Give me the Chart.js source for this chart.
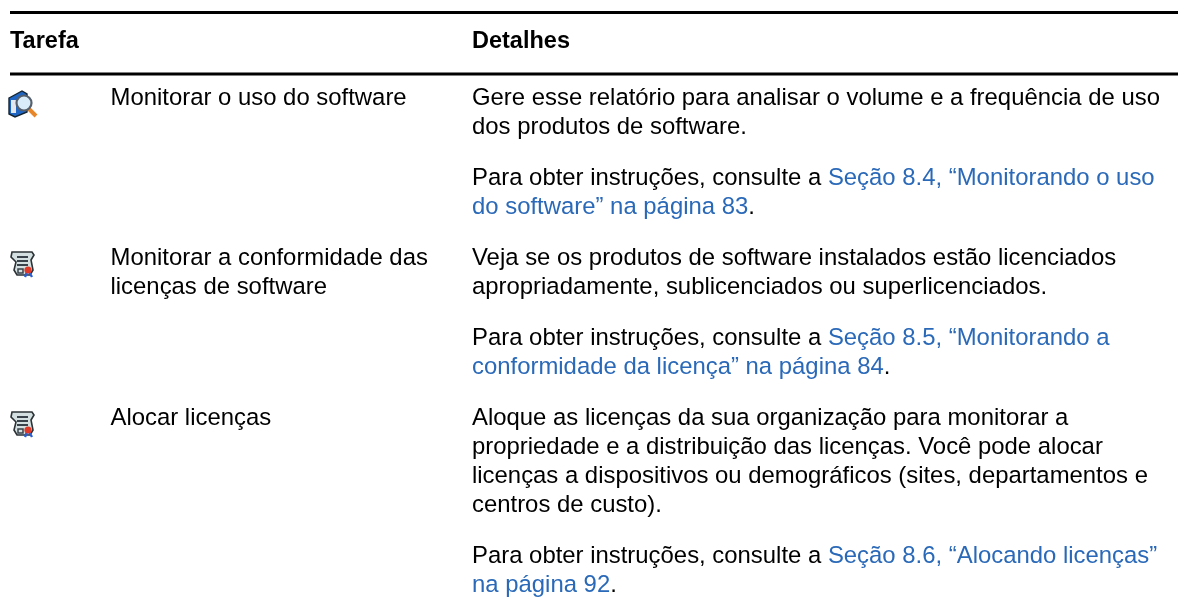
<!DOCTYPE html>
<html lang="en">
<head>
  <meta charset="UTF-8" />
  <title>Tarefa / Detalhes</title>
  <script src="https://cdn.jsdelivr.net/npm/chart.js"></script>
  <style>
    html, body { margin: 0; padding: 0; background: #fff; }
    #tableChart { display: block; }
  </style>
</head>
<body>
  <canvas id="tableChart" width="1178" height="610"></canvas>
  <script>
    // table content
    const headers = ['Tarefa', 'Detalhes'];
    const tasks = [
      ['Monitorar o uso do software'],
      ['Monitorar a conformidade das', 'licenças de software'],
      ['Alocar licenças']
    ];
    const icons = ['search', 'scroll', 'scroll'];
    // each cell: paragraphs > lines > [black text, link text, black text]
    const details = [
      [
        [['Gere esse relatório para analisar o volume e a frequência de uso'], ['dos produtos de software.']],
        [['Para obter instruções, consulte a ', 'Seção 8.4, “Monitorando o uso'], ['', 'do software” na página 83', '.']]
      ],
      [
        [['Veja se os produtos de software instalados estão licenciados'], ['apropriadamente, sublicenciados ou superlicenciados.']],
        [['Para obter instruções, consulte a ', 'Seção 8.5, “Monitorando a'], ['', 'conformidade da licença” na página 84', '.']]
      ],
      [
        [['Aloque as licenças da sua organização para monitorar a'], ['propriedade e a distribuição das licenças. Você pode alocar'], ['licenças a dispositivos ou demográficos (sites, departamentos e'], ['centros de custo).']],
        [['Para obter instruções, consulte a ', 'Seção 8.6, “Alocando licenças”'], ['', 'na página 92', '.']]
      ]
    ];

    const FONT = '"Liberation Sans", Arial, sans-serif';
    const FONT_SIZE = 23.9;
    const BOLD_SIZE = 23.5;
    const LINE_H = 29.3;
    const PARA_GAP = 21.4;
    const LINK = '#2a69b8';
    const COL_ICON = 10, COL_TASK = 110.5, COL_DETAIL = 472;
    const RULE_TOP = 12.5, RULE_HEAD = 74, HEAD_Y = 42, FIRST_ROW_Y = 98;
    // the icon radius makes Chart.js inset the plot area by this much
    const INSET = 15;

    // work out the text rows from the cell contents
    const textItems = [];
    const iconPoints = [];
    headers.forEach((h, i) => textItems.push({ x: i ? COL_DETAIL : COL_ICON, y: HEAD_Y, parts: [h], bold: true }));
    let rowY = FIRST_ROW_Y;
    details.forEach((cell, r) => {
      iconPoints.push({ x: COL_ICON + 13, y: rowY + 6 });
      tasks[r].forEach((t, i) => textItems.push({ x: COL_TASK, y: rowY + i * LINE_H, parts: [t] }));
      let y = rowY;
      cell.forEach(para => {
        para.forEach(line => {
          textItems.push({ x: COL_DETAIL, y, parts: line });
          y += LINE_H;
        });
        y += PARA_GAP;
      });
      rowY = y;
    });

    function pixIcon(kind) {
      const c = document.createElement('canvas');
      c.width = 30; c.height = 28;
      const g = c.getContext('2d');
      if (kind === 'search') {
        g.fillStyle = '#1f66c4';
        g.beginPath(); g.moveTo(1, 8); g.lineTo(14, 1); g.lineTo(19, 4); g.lineTo(19, 22); g.lineTo(7, 27); g.lineTo(1, 24); g.closePath(); g.fill();
        g.strokeStyle = '#142430'; g.lineWidth = 1.4; g.stroke();
        g.fillStyle = '#e4e8ee'; g.fillRect(3, 10, 5, 13);
        g.strokeStyle = '#e8862a'; g.lineWidth = 4; g.beginPath(); g.moveTo(21, 19); g.lineTo(28, 26); g.stroke();
        g.fillStyle = '#d8ecfa'; g.strokeStyle = '#55606c'; g.lineWidth = 2.2;
        g.beginPath(); g.arc(16, 13, 7.5, 0, Math.PI * 2); g.fill(); g.stroke();
      } else {
        g.fillStyle = '#d3dfe0'; g.strokeStyle = '#2c3236'; g.lineWidth = 1.6;
        g.beginPath(); g.moveTo(4, 2); g.lineTo(24, 2); g.lineTo(26, 5); g.lineTo(23, 10); g.lineTo(25, 20); g.lineTo(22, 25); g.lineTo(9, 25); g.lineTo(6, 20); g.lineTo(8, 12); g.lineTo(3, 7); g.closePath(); g.fill(); g.stroke();
        g.strokeStyle = '#39424a'; g.lineWidth = 2;
        [7, 11, 15].forEach(y => { g.beginPath(); g.moveTo(9, y); g.lineTo(20, y); g.stroke(); });
        g.strokeStyle = '#39424a'; g.lineWidth = 1.5;
        g.strokeRect(10, 19, 5, 4);
        g.strokeStyle = '#2a5fd0'; g.lineWidth = 2.4;
        g.beginPath(); g.moveTo(19, 22); g.lineTo(17, 27); g.moveTo(21, 22); g.lineTo(24, 27); g.stroke();
        g.fillStyle = '#e0392a'; g.beginPath(); g.arc(20, 20, 3.6, 0, Math.PI * 2); g.fill();
      }
      return c;
    }

    // draws the table text through the scales
    const tableText = {
      id: 'tableText',
      afterDatasetsDraw(chart) {
        const { ctx, scales } = chart;
        ctx.save();
        ctx.textBaseline = 'middle';
        ctx.textAlign = 'left';
        textItems.forEach(t => {
          ctx.font = t.bold ? 'bold ' + BOLD_SIZE + 'px ' + FONT : FONT_SIZE + 'px ' + FONT;
          let px = scales.x.getPixelForValue(t.x);
          const py = scales.y.getPixelForValue(t.y);
          t.parts.forEach((part, i) => {
            ctx.fillStyle = i === 1 ? LINK : '#000';
            ctx.fillText(part, px, py);
            px += ctx.measureText(part).width;
          });
        });
        ctx.restore();
      }
    };

    new Chart(document.getElementById('tableChart'), {
      type: 'scatter',
      data: {
        datasets: [
          {
            type: 'line', data: [{ x: COL_ICON, y: RULE_TOP }, { x: 1178, y: RULE_TOP }],
            borderColor: '#000', borderWidth: 3, pointRadius: 0, clip: false
          },
          {
            type: 'line', data: [{ x: COL_ICON, y: RULE_HEAD }, { x: 1178, y: RULE_HEAD }],
            borderColor: '#000', borderWidth: 3, pointRadius: 0, clip: false
          },
          {
            data: iconPoints,
            pointStyle: icons.map(pixIcon),
            pointRadius: 14,
            clip: false
          }
        ]
      },
      options: {
        responsive: false,
        animation: false,
        layout: { padding: 0 },
        plugins: { legend: { display: false }, tooltip: { enabled: false } },
        scales: {
          x: { type: 'linear', display: false, min: INSET, max: 1178 - INSET },
          y: { type: 'linear', display: false, min: INSET, max: 610 - INSET, reverse: true }
        }
      },
      plugins: [tableText]
    });
  </script>
</body>
</html>
